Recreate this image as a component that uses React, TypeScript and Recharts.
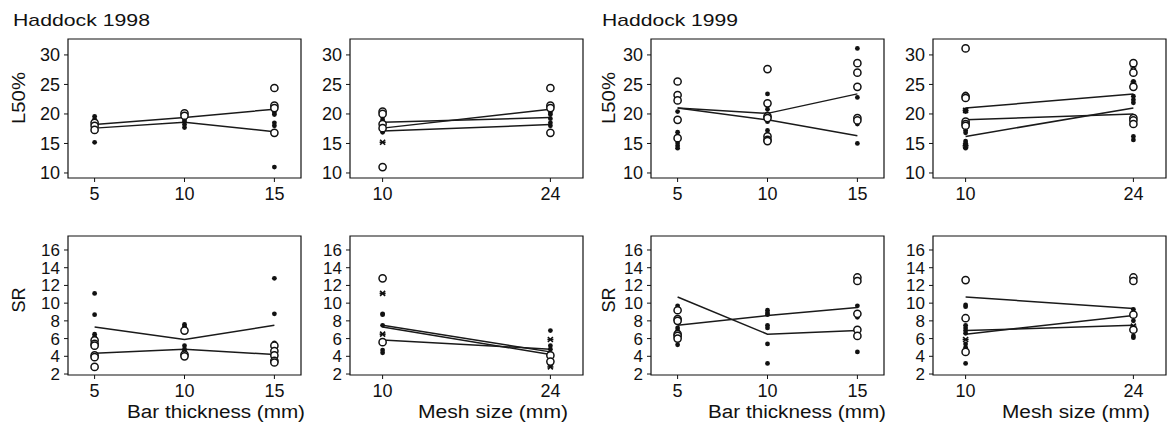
import React from 'react';
import { ComposedChart, Scatter, XAxis, YAxis, ReferenceArea } from 'recharts';

// ---- categories / ticks ----
const barX = [5, 10, 15];
const meshX = [10, 24];
const l50Ticks = [10, 15, 20, 25, 30];
const srTicks = [2, 4, 6, 8, 10, 12, 14, 16];

// ---- Haddock 1998, L50%, bar thickness ----
const a98BarOpen = [[18.5, 18.0, 17.3], [20.1, 19.7], [24.4, 21.4, 21.0, 16.8]];
const a98BarFilled = [[19.6, 19.1, 18.7, 17.6, 17.0, 15.2], [19.4, 19.0, 18.7, 18.2, 17.7], [20.2, 19.9, 18.5, 18.0, 11.0]];
const a98BarStar: number[][] = [[], [], []];
const a98BarLines = [[18.2, 19.4, 20.8], [17.6, 18.6, 17.0]];

// ---- Haddock 1998, L50%, mesh size ----
const a98MeshOpen = [[20.4, 20.0, 18.3, 17.6, 11.0], [24.4, 21.4, 21.0, 16.8]];
const a98MeshFilled = [[19.5, 19.0, 18.6, 18.0, 17.4, 16.9], [20.2, 19.9, 19.2, 18.5, 18.0]];
const a98MeshStar = [[15.2], []];
const a98MeshLines = [[18.6, 19.4], [17.6, 20.8], [17.1, 18.2]];

// ---- Haddock 1999, L50%, bar thickness ----
const a99BarOpen = [[25.5, 23.2, 22.3, 19.0, 15.9], [27.6, 21.8, 19.6, 19.3, 16.2, 15.6, 15.4], [28.6, 27.0, 24.6, 19.3, 18.9]];
const a99BarFilled = [[20.4, 16.9, 15.1, 14.6, 14.2], [23.4, 21.9, 20.8, 20.0, 18.7, 17.2, 16.5], [31.1, 22.8, 18.6, 18.3, 15.0]];
const a99BarStar: number[][] = [[], [], []];
const a99BarLines = [[21.0, 20.1, 23.4], [21.0, 19.0, 16.3]];

// ---- Haddock 1999, L50%, mesh size ----
const a99MeshOpen = [[31.1, 23.0, 22.7, 18.7, 18.3, 18.0], [28.6, 27.0, 24.6, 19.3, 18.9, 18.3]];
const a99MeshFilled = [[23.4, 20.7, 20.4, 17.2, 16.8, 15.4, 15.1, 14.7, 14.2], [25.5, 23.0, 22.4, 21.9, 16.2, 15.6]];
const a99MeshStar = [[20.6, 14.6], [28.0, 25.2]];
const a99MeshLines = [[21.0, 23.4], [19.0, 20.0], [16.2, 21.0]];

// ---- Haddock 1998, SR, bar thickness ----
const s98BarOpen = [[5.8, 5.4, 5.2, 4.1, 3.9, 2.8], [6.9, 4.2, 4.0], [5.2, 4.6, 4.1, 3.5, 3.3]];
const s98BarFilled = [[11.1, 8.7, 6.5, 6.2, 5.0], [7.6, 7.4, 5.2, 4.8, 4.6], [12.8, 8.8, 5.5, 5.2, 4.8]];
const s98BarStar: number[][] = [[], [], []];
const s98BarLines = [[7.3, 5.9, 7.5], [4.35, 4.8, 4.2]];

// ---- Haddock 1998, SR, mesh size ----
const s98MeshOpen = [[12.8, 5.6], [4.1, 3.4]];
const s98MeshFilled = [[8.8, 8.7, 7.5, 4.7, 4.4], [6.9, 5.2, 4.8, 4.3]];
const s98MeshStar = [[11.1, 6.5], [5.9, 2.8]];
const s98MeshLines = [[7.5, 4.5], [7.3, 4.2], [5.85, 4.8]];

// ---- Haddock 1999, SR, bar thickness ----
const s99BarOpen = [[9.2, 8.2, 8.0, 6.5, 6.3, 6.0], [], [12.9, 12.5, 8.8, 7.0, 6.3]];
const s99BarFilled = [[9.7, 7.2, 6.9, 5.3], [9.2, 8.9, 8.7, 7.5, 7.2, 5.4, 3.2], [12.8, 9.7, 8.4, 4.5]];
const s99BarStar: number[][] = [[], [], []];
const s99BarLines = [[10.7, 6.5, 6.9], [7.5, 8.6, 9.5]];

// ---- Haddock 1999, SR, mesh size ----
const s99MeshOpen = [[12.6, 8.3, 4.5], [12.9, 12.5, 8.7, 7.0]];
const s99MeshFilled = [[9.8, 9.6, 7.5, 7.2, 6.9, 6.6, 5.4, 5.0, 3.2], [9.3, 8.9, 8.0, 6.3, 6.1]];
const s99MeshStar = [[5.9], [7.4]];
const s99MeshLines = [[10.7, 9.4], [6.9, 7.5], [6.5, 8.6]];

// ---- layout ----
const FONT = '"Liberation Sans", Arial, Helvetica, sans-serif';
const INK = '#111';
const barDomain: [number, number] = [3.52, 16.48];
const meshDomain: [number, number] = [7.28, 26.72];
const l50Domain: [number, number] = [9.15, 32.7];
const srDomain: [number, number] = [1.89, 17.58];
const colLeft = [68, 350, 651, 933];
const plotW = 233;
const rowTop = [39, 236];
const plotH = 139;
const YW = 50;

const toPts = (xs: number[], groups: number[][]) =>
  groups.flatMap((g, i) => g.map((v) => ({ x: xs[i], y: v })));

const OpenDot = (p: any) => (
  <circle cx={p.cx} cy={p.cy} r={3.6} fill="#fff" stroke={INK} strokeWidth={1.5} />
);
const FilledDot = (p: any) => <circle cx={p.cx} cy={p.cy} r={2.4} fill={INK} />;
const StarDot = (p: any) => (
  <g stroke={INK} strokeWidth={1.6}>
    <line x1={p.cx - 2.5} y1={p.cy - 2.5} x2={p.cx + 2.5} y2={p.cy + 2.5} />
    <line x1={p.cx - 2.5} y1={p.cy + 2.5} x2={p.cx + 2.5} y2={p.cy - 2.5} />
    <line x1={p.cx - 3} y1={p.cy} x2={p.cx + 3} y2={p.cy} />
  </g>
);
const NoDot = () => <g />;

type PanelProps = {
  col: number;
  row: number;
  xs: number[];
  xDomain: [number, number];
  yDomain: [number, number];
  yTicks: number[];
  yFont: number;
  open: number[][];
  filled: number[][];
  star: number[][];
  lines: number[][];
};

function Panel({ col, row, xs, xDomain, yDomain, yTicks, yFont, open, filled, star, lines }: PanelProps) {
  const W = YW + plotW + 5;
  const H = 5 + plotH + 30;
  return (
    <div style={{ position: 'absolute', left: colLeft[col] - YW, top: rowTop[row] - 5 }}>
      <ComposedChart width={W} height={H} margin={{ top: 5, right: 5, bottom: 0, left: 0 }}>
        <XAxis
          type="number"
          dataKey="x"
          domain={xDomain}
          ticks={xs}
          allowDataOverflow
          axisLine={false}
          tickLine={{ stroke: INK }}
          tickSize={4}
          tickMargin={5}
          height={30}
          tick={{ fill: INK, fontSize: 18, fontFamily: FONT }}
        />
        <YAxis
          type="number"
          dataKey="y"
          domain={yDomain}
          ticks={yTicks}
          allowDataOverflow
          axisLine={false}
          tickLine={{ stroke: INK }}
          tickSize={4}
          tickMargin={4}
          width={YW}
          interval={0}
          tick={{ fill: INK, fontSize: yFont, fontFamily: FONT }}
        />
        <ReferenceArea
          x1={xDomain[0]}
          x2={xDomain[1]}
          y1={yDomain[0]}
          y2={yDomain[1]}
          fill="none"
          fillOpacity={0}
          stroke={INK}
          strokeWidth={1.2}
          ifOverflow="visible"
        />
        {lines.map((ln, i) => (
          <Scatter
            key={'l' + i}
            data={ln.map((v, j) => ({ x: xs[j], y: v }))}
            line={{ stroke: '#1a1a1a', strokeWidth: 1.5 }}
            lineType="joint"
            shape={NoDot}
            isAnimationActive={false}
          />
        ))}
        <Scatter data={toPts(xs, filled)} shape={FilledDot} isAnimationActive={false} />
        <Scatter data={toPts(xs, star)} shape={StarDot} isAnimationActive={false} />
        <Scatter data={toPts(xs, open)} shape={OpenDot} isAnimationActive={false} />
      </ComposedChart>
    </div>
  );
}

export default function App() {
  const t = { fill: INK, fontFamily: FONT } as const;
  return (
    <div
      style={{
        position: 'absolute',
        left: 0,
        top: 0,
        width: 1171,
        height: 425,
        overflow: 'hidden',
        background: '#fff',
      }}
    >
      <Panel col={0} row={0} xs={barX} xDomain={barDomain} yDomain={l50Domain} yTicks={l50Ticks} yFont={18}
        open={a98BarOpen} filled={a98BarFilled} star={a98BarStar} lines={a98BarLines} />
      <Panel col={1} row={0} xs={meshX} xDomain={meshDomain} yDomain={l50Domain} yTicks={l50Ticks} yFont={18}
        open={a98MeshOpen} filled={a98MeshFilled} star={a98MeshStar} lines={a98MeshLines} />
      <Panel col={2} row={0} xs={barX} xDomain={barDomain} yDomain={l50Domain} yTicks={l50Ticks} yFont={18}
        open={a99BarOpen} filled={a99BarFilled} star={a99BarStar} lines={a99BarLines} />
      <Panel col={3} row={0} xs={meshX} xDomain={meshDomain} yDomain={l50Domain} yTicks={l50Ticks} yFont={18}
        open={a99MeshOpen} filled={a99MeshFilled} star={a99MeshStar} lines={a99MeshLines} />
      <Panel col={0} row={1} xs={barX} xDomain={barDomain} yDomain={srDomain} yTicks={srTicks} yFont={17}
        open={s98BarOpen} filled={s98BarFilled} star={s98BarStar} lines={s98BarLines} />
      <Panel col={1} row={1} xs={meshX} xDomain={meshDomain} yDomain={srDomain} yTicks={srTicks} yFont={17}
        open={s98MeshOpen} filled={s98MeshFilled} star={s98MeshStar} lines={s98MeshLines} />
      <Panel col={2} row={1} xs={barX} xDomain={barDomain} yDomain={srDomain} yTicks={srTicks} yFont={17}
        open={s99BarOpen} filled={s99BarFilled} star={s99BarStar} lines={s99BarLines} />
      <Panel col={3} row={1} xs={meshX} xDomain={meshDomain} yDomain={srDomain} yTicks={srTicks} yFont={17}
        open={s99MeshOpen} filled={s99MeshFilled} star={s99MeshStar} lines={s99MeshLines} />

      <svg width={1171} height={425} style={{ position: 'absolute', left: 0, top: 0, pointerEvents: 'none' }}>
        <text x={13} y={26} fontSize={17} textLength={137} lengthAdjust="spacingAndGlyphs" {...t}>Haddock 1998</text>
        <text x={602} y={26} fontSize={17} textLength={136} lengthAdjust="spacingAndGlyphs" {...t}>Haddock 1999</text>
        <text x={25} y={98} fontSize={18} textAnchor="middle" transform="rotate(-90 25 98)" textLength={52} lengthAdjust="spacingAndGlyphs" {...t}>L50%</text>
        <text x={615} y={98} fontSize={18} textAnchor="middle" transform="rotate(-90 615 98)" textLength={52} lengthAdjust="spacingAndGlyphs" {...t}>L50%</text>
        <text x={25} y={300} fontSize={18} textAnchor="middle" transform="rotate(-90 25 300)" {...t}>SR</text>
        <text x={615} y={300} fontSize={18} textAnchor="middle" transform="rotate(-90 615 300)" {...t}>SR</text>
        <text x={127} y={418} fontSize={18} textLength={178} lengthAdjust="spacingAndGlyphs" {...t}>Bar thickness (mm)</text>
        <text x={418} y={418} fontSize={18} textLength={150} lengthAdjust="spacingAndGlyphs" {...t}>Mesh size (mm)</text>
        <text x={708} y={418} fontSize={18} textLength={178} lengthAdjust="spacingAndGlyphs" {...t}>Bar thickness (mm)</text>
        <text x={1002} y={418} fontSize={18} textLength={148} lengthAdjust="spacingAndGlyphs" {...t}>Mesh size (mm)</text>
      </svg>
    </div>
  );
}
